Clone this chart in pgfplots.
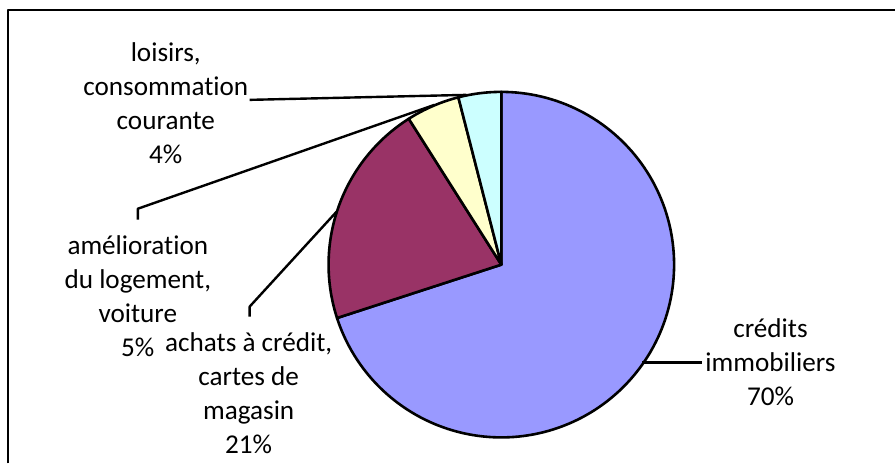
\documentclass[border=0pt]{standalone}
\usepackage{pgfplots}
\usepackage{pgfplotstable}
\pgfplotsset{compat=1.18}
\usepackage{fontspec}
\setmainfont{Carlito}[Ligatures=NoCommon]
\definecolor{pieblue}{RGB}{153,153,255}
\definecolor{piemaroon}{RGB}{153,51,102}
\definecolor{pieyellow}{RGB}{255,255,204}
\definecolor{piecyan}{RGB}{204,255,255}

\pgfplotstableread{
label value
credits 70
achats 21
amelioration 5
loisirs 4
}\piedata

\begin{document}
\begin{tikzpicture}
\pgfplotstablegetelem{0}{value}\of\piedata \let\vA\pgfplotsretval
\pgfplotstablegetelem{1}{value}\of\piedata \let\vB\pgfplotsretval
\pgfplotstablegetelem{2}{value}\of\piedata \let\vC\pgfplotsretval
\pgfplotstablegetelem{3}{value}\of\piedata \let\vD\pgfplotsretval
\pgfmathsetmacro\aA{90}
\pgfmathsetmacro\aB{\aA-3.6*\vA}
\pgfmathsetmacro\aC{\aB-3.6*\vB}
\pgfmathsetmacro\aD{\aC-3.6*\vC}
\pgfmathsetmacro\aE{\aD-3.6*\vD}
\begin{axis}[
  scale only axis, width=448pt, height=232pt,
  xmin=0, xmax=896, ymin=0, ymax=464, y dir=reverse,
  hide axis, clip=false,
  every axis plot/.append style={line join=round},
]
\path (axis cs:0,0) rectangle (axis cs:896,464);
% border (top and left)
\addplot[black, line width=1.2pt] coordinates {(8,464) (8,10) (896,10)};
% slices
\addplot[draw=black, line width=1.3pt, fill=pieblue, domain=\aB:\aA, samples=150, variable=\t]
  ({502+173*cos(\t)},{265-173*sin(\t)}) -- (502,265) -- cycle;
\addplot[draw=black, line width=1.3pt, fill=piemaroon, domain=\aC:\aB, samples=60, variable=\t]
  ({502+173*cos(\t)},{265-173*sin(\t)}) -- (502,265) -- cycle;
\addplot[draw=black, line width=1.3pt, fill=pieyellow, domain=\aD:\aC, samples=20, variable=\t]
  ({502+173*cos(\t)},{265-173*sin(\t)}) -- (502,265) -- cycle;
\addplot[draw=black, line width=1.3pt, fill=piecyan, domain=\aE:\aD, samples=20, variable=\t]
  ({502+173*cos(\t)},{265-173*sin(\t)}) -- (502,265) -- cycle;
% leader lines
\addplot[black, line width=1.2pt] coordinates {(250,100) (467,95)};
\addplot[black, line width=1.2pt] coordinates {(138,220) (138,209) (435,105)};
\addplot[black, line width=1.2pt] coordinates {(250,317) (250,307) (337,212)};
\addplot[black, line width=1.2pt] coordinates {(643,363) (703,363)};
% labels
\begin{scope}[every node/.style={align=center, font=\fontsize{13.6}{17}\selectfont, inner sep=0pt}]
\node at (axis cs:166,103.5) {loisirs,\\consommation\\courante\\\vD\%};
\node at (axis cs:138,296.5) {amélioration\\du logement,\\voiture\\\vC\%};
\node at (axis cs:249,393.5) {achats à crédit,\\cartes de\\magasin\\\vB\%};
\node at (axis cs:771.5,363) {crédits\\immobiliers\\\vA\%};
\end{scope}
\end{axis}
\end{tikzpicture}
\end{document}
